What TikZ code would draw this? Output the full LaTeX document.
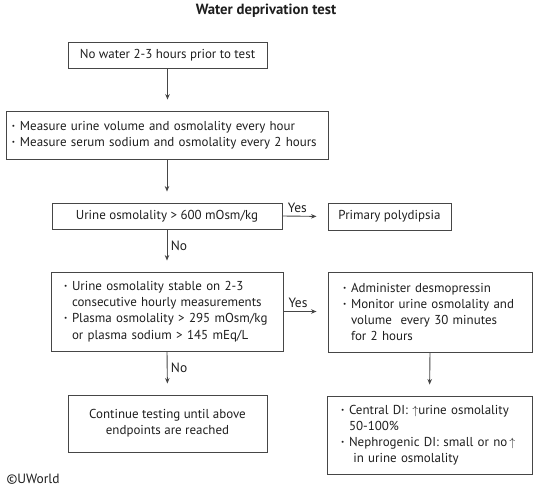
\documentclass[tikz,border=0pt]{standalone}
\usepackage{fontspec}
\setmainfont{PT Sans}
\usepackage{tikz}
\usetikzlibrary{arrows.meta}
\definecolor{boxline}{RGB}{70, 70, 70}
\definecolor{boxtext}{RGB}{30, 30, 30}
\newcommand{\bul}{\makebox[8bp][l]{\raisebox{0.3ex}{\scalebox{0.55}{\textbullet}}}}
\newcommand{\ind}{\hspace*{8bp}}

\begin{document}
\begin{tikzpicture}[x=1bp, y=-1bp,
        box/.style={draw=boxline, line width=0.9bp, text=boxtext, inner sep=0pt,
                    font=\fontsize{13}{16.2}\selectfont},
        flow/.style={draw=boxline, line width=0.9bp, -{Stealth[length=5.5bp, width=4.5bp]}, shorten >=11bp},
        tag/.style={text=boxtext, font=\fontsize{13.5}{15}\selectfont}]
            \useasboundingbox                                              (0, 0) rectangle (537, 489);
            \node[font=\bfseries\fontsize{14.8}{16}\selectfont, text=boxtext] (title) at (266.0,  11.0) {Water deprivation test};
            \node[box, minimum width=199bp, minimum height=26bp]             (nowater)  at (167.5,  55.0) {No water 2-3 hours prior to test};
            \node[box, minimum height=48bp, text width=310bp, inner xsep=6bp, align=left] (measure) at (167.0, 135.0)
                 {\bul Measure urine volume and osmolality every hour\\\bul Measure serum sodium and osmolality every 2 hours};
            \node[box, minimum width=230bp, minimum height=26bp]             (urine)    at (167.0, 216.0) {Urine osmolality > 600 mOsm/kg};
            \node[box, minimum width=123bp, minimum height=27bp]             (primary)  at (389.5, 216.5) {Primary polydipsia};
            \node[box, minimum height=79bp, text width=206bp, inner xsep=13bp, align=left] (stable) at (167.0, 311.5)
                 {\bul Urine osmolality stable on 2-3\\\ind consecutive hourly measurements\\\bul Plasma osmolality > 295 mOsm/kg\\\ind or plasma sodium > 145 mEq/L};
            \node[box, minimum height=80bp, text width=174bp, inner xsep=15bp, align=left] (desmo) at (430.0, 312.0)
                 {\bul Administer desmopressin\\\bul Monitor urine osmolality and\\\ind volume\ \ every 30 minutes\\\ind for 2 hours};
            \node[box, minimum width=199bp, minimum height=57bp, align=center] (continue) at (167.5, 423.5)
                 {Continue testing until above\\endpoints are reached};
            \node[box, minimum height=78bp, text width=177bp, inner xsep=14bp, align=left] (result) at (429.5, 435.0)
                 {\bul Central DI: $\uparrow$urine osmolality\\\ind 50-100\%\\\bul\mbox{Nephrogenic DI: small or no$\,\uparrow$}\\\ind\ in urine osmolality};
            \node[tag, anchor=west, font=\fontsize{13.5}{15}\selectfont] (uworld) at (3.0, 479.0) {\textcopyright UWorld};
            % connectors
            \draw[flow] (nowater.south) -- (nowater.south |- measure.north);
            \draw[flow] (measure.south) -- (urine.north);
            \draw[flow] (urine.east) -- (primary.west) node[tag, above, pos=0.33] {Yes};
            \draw[flow] (urine.south) -- (stable.north) node[tag, right, pos=0.38] {No};
            \draw[flow] (stable.east) -- (stable.east -| desmo.west) node[tag, above, pos=0.33] {Yes};
            \draw[flow] (stable.south) -- (continue.north) node[tag, right, pos=0.38] {No};
            \draw[flow] (desmo.south) -- (result.north);
        \end{tikzpicture}
\end{document}
